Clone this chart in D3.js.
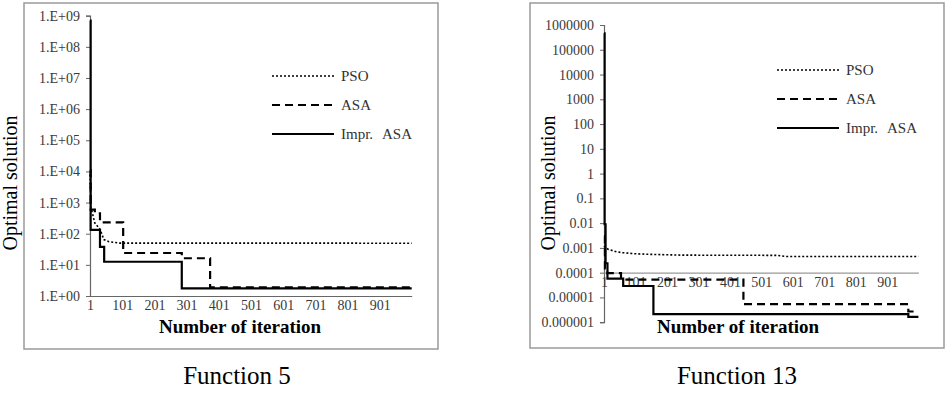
<!DOCTYPE html>
<html><head><meta charset="utf-8">
<script src="https://cdn.jsdelivr.net/npm/d3@7"></script>
<style>body{margin:0;background:#fff}svg{display:block}</style>
</head><body>
<svg id="c" width="948" height="398"></svg>
<script>
// ---------- DATA ----------
const seriesNames = ["PSO", "ASA", "Impr. ASA"];
const xTickLabels = [1, 101, 201, 301, 401, 501, 601, 701, 801, 901];

// Function 5
const f5YTicks = [1, 10, 100, 1e3, 1e4, 1e5, 1e6, 1e7, 1e8, 1e9];
const f5YTickLabels = ["1.E+00","1.E+01","1.E+02","1.E+03","1.E+04","1.E+05","1.E+06","1.E+07","1.E+08","1.E+09"];
const f5PsoIter  = [1, 4, 16, 32, 44, 60, 94, 1000];
const f5PsoVal   = [8000, 700, 220, 140, 65, 55, 50, 49.6];
const f5AsaIter  = [1, 3, 16, 32, 104, 286, 374, 1000];
const f5AsaVal   = [11000, 590, 450, 230, 24, 16.3, 1.9, 1.9];
const f5ImprIter = [1, 3, 32, 45, 286, 1000];
const f5ImprVal  = [7e8, 132, 38, 12.6, 1.77, 1.77];

// Function 13
const f13YTicks = [1e-6, 1e-5, 1e-4, 1e-3, 1e-2, 0.1, 1, 10, 100, 1e3, 1e4, 1e5, 1e6];
const f13YTickLabels = ["0.000001","0.00001","0.0001","0.001","0.01","0.1","1","10","100","1000","10000","100000","1000000"];
const f13PsoIter  = [1, 5, 15, 40, 61, 100, 146, 250, 550, 580, 1000];
const f13PsoVal   = [1.2e-3, 1.05e-3, 8.7e-4, 7e-4, 6.4e-4, 5.8e-4, 5.5e-4, 5.1e-4, 5.0e-4, 4.5e-4, 4.5e-4];
const f13AsaIter  = [1, 4, 12, 55, 444, 968, 1000];
const f13AsaVal   = [3e-3, 1.5e-4, 9.5e-5, 5.2e-5, 5.4e-6, 2.7e-6, 2.7e-6];
const f13ImprIter = [1, 3, 6, 12, 62, 158, 968, 1000];
const f13ImprVal  = [4.6e5, 0.009, 2.4e-4, 5.7e-5, 2.9e-5, 2.1e-6, 1.65e-6, 1.65e-6];

// ---------- DRAW ----------
const svg = d3.select("#c");
const serif = "'Liberation Serif','Times New Roman',serif";
const styles = {
  "PSO": {w: 1.6, dash: "2,2", curve: d3.curveLinear},
  "ASA": {w: 2.2, dash: "8,5", curve: d3.curveStepAfter},
  "Impr. ASA": {w: 2.2, dash: null, curve: d3.curveStepAfter}
};

function drawChart(cfg) {
  const g = svg.append("g");
  // frame
  g.append("rect").attr("x", cfg.frame[0]).attr("y", cfg.frame[1])
    .attr("width", cfg.frame[2]).attr("height", cfg.frame[3])
    .attr("fill", "none").attr("stroke", "#9a9a9a").attr("stroke-width", 1.5);

  const x = d3.scaleLinear().domain([1, 1000]).range(cfg.xRange);
  const y = d3.scaleLog().domain(cfg.yDomain).range(cfg.yRange);

  // y axis
  const yAxis = d3.axisLeft(y).tickValues(cfg.yTicks)
    .tickFormat((d, i) => cfg.yLabels[i]).tickSize(4).tickPadding(6);
  const ya = g.append("g").attr("transform", `translate(${cfg.xRange[0]},0)`).call(yAxis);
  ya.select(".domain").attr("stroke", "#666").attr("stroke-width", 1.2);
  ya.selectAll(".tick line").attr("stroke", "#666");
  ya.selectAll("text").attr("font-family", serif).attr("font-size", 14).attr("fill", "#3a3a3a");

  // x axis
  const xAxis = d3.axisBottom(x).tickValues(xTickLabels).tickFormat(d => d).tickSize(0).tickPadding(4);
  const xa = g.append("g").attr("transform", `translate(0,${y(cfg.xAxisAt)})`).call(xAxis);
  xa.select(".domain").attr("stroke", cfg.xAxisColor).attr("stroke-width", 1.2);
  xa.selectAll("text").attr("font-family", serif).attr("font-size", 14).attr("fill", "#3a3a3a");

  // lines
  cfg.series.forEach(s => {
    const st = styles[s.name];
    const pts = s.iter.map((it, i) => [it, s.val[i]]);
    const line = d3.line().x(d => x(d[0])).y(d => y(d[1])).curve(st.curve);
    g.append("path").datum(pts).attr("d", line).attr("fill", "none")
      .attr("stroke", "#000").attr("stroke-width", st.w)
      .attr("stroke-dasharray", st.dash);
  });

  // legend
  seriesNames.forEach((n, i) => {
    const st = styles[n];
    const ly = cfg.legend.y + i * cfg.legend.dy;
    g.append("line").attr("x1", cfg.legend.x).attr("x2", cfg.legend.x + 62)
      .attr("y1", ly).attr("y2", ly).attr("stroke", "#000")
      .attr("stroke-width", st.w).attr("stroke-dasharray", st.dash);
    g.append("text").attr("x", cfg.legend.x + 69).attr("y", ly + 5)
      .attr("font-family", serif).attr("font-size", 15).attr("fill", "#333")
      .attr("word-spacing", 6).text(n);
  });

  // axis titles
  g.append("text").attr("transform", `translate(${cfg.yTitleX},${cfg.yTitleY}) rotate(-90)`)
    .attr("text-anchor", "middle").attr("font-family", serif).attr("font-size", 20)
    .attr("fill", "#000").text("Optimal solution");
  g.append("text").attr("x", cfg.xTitleX).attr("y", 333).attr("text-anchor", "middle")
    .attr("font-family", serif).attr("font-size", 19).attr("font-weight", "bold")
    .attr("fill", "#000").text("Number of iteration");
  g.append("text").attr("x", cfg.titleX).attr("y", 384).attr("text-anchor", "middle")
    .attr("font-family", serif).attr("font-size", 25).attr("fill", "#000").text(cfg.title);
}

drawChart({
  frame: [24, 3, 414, 346],
  xRange: [90, 411.7], yDomain: [1, 1e9], yRange: [296, 15.7],
  yTicks: f5YTicks, yLabels: f5YTickLabels, xAxisAt: 1, xAxisColor: "#666",
  series: [
    {name: "PSO", iter: f5PsoIter, val: f5PsoVal},
    {name: "ASA", iter: f5AsaIter, val: f5AsaVal},
    {name: "Impr. ASA", iter: f5ImprIter, val: f5ImprVal}
  ],
  legend: {x: 272, y: 76, dy: 29},
  yTitleX: 17, yTitleY: 183, xTitleX: 240, titleX: 237, title: "Function 5"
});

drawChart({
  frame: [530, 3, 414, 345],
  xRange: [604, 918.4], yDomain: [1e-6, 1e6], yRange: [322.2, 25],
  yTicks: f13YTicks, yLabels: f13YTickLabels, xAxisAt: 1e-4, xAxisColor: "#999",
  series: [
    {name: "PSO", iter: f13PsoIter, val: f13PsoVal},
    {name: "ASA", iter: f13AsaIter, val: f13AsaVal},
    {name: "Impr. ASA", iter: f13ImprIter, val: f13ImprVal}
  ],
  legend: {x: 777, y: 70, dy: 29},
  yTitleX: 555, yTitleY: 183, xTitleX: 738, titleX: 737, title: "Function 13"
});
</script>
</body></html>
